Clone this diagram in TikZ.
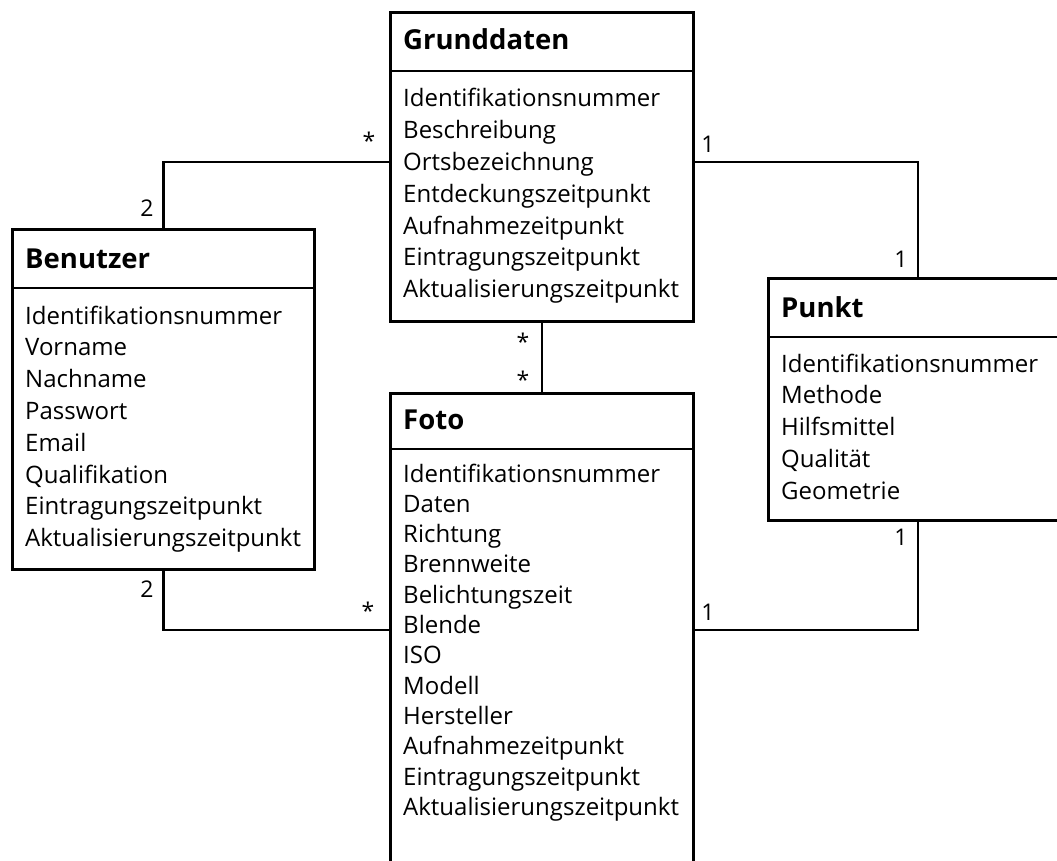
\documentclass[tikz,border=0pt]{standalone}
\usepackage{fontspec}
\setmainfont{Open Sans}
\begin{document}
\begin{tikzpicture}[x=1pt,y=-1pt,
  classbox/.style={draw, line width=2.6pt, rectangle, anchor=north west, inner sep=0pt},
  sepline/.style={line width=2.6pt},
  conn/.style={line width=2.6pt},
  title/.style={anchor=base west, inner sep=0pt, font=\fontsize{27.5}{30}\selectfont\bfseries},
  attrs/.style={anchor=base west, align=left, text width=330pt, inner sep=0pt,
    font=\fontsize{24}{31.8}\selectfont},
  mult/.style={anchor=base, inner sep=0pt, font=\fontsize{23}{24}\selectfont}]
  \clip (0,0) rectangle (1057,861);

  % class boxes
  \node[classbox, minimum width=303pt, minimum height=309pt] (grund) at (389,11) {};
  \node[classbox, minimum width=302pt, minimum height=340pt] (benutzer) at (11,228) {};
  \node[classbox, minimum width=303pt, minimum height=520pt] (foto) at (389,392) {};
  \node[classbox, minimum width=320pt, minimum height=242pt] (punkt) at (767,277) {};

  % header separators
  \draw[sepline] ([yshift=-60pt]grund.north west) -- ([yshift=-60pt]grund.north east);
  \draw[sepline] ([yshift=-60pt]benutzer.north west) -- ([yshift=-60pt]benutzer.north east);
  \draw[sepline] ([yshift=-57pt]foto.north west) -- ([yshift=-57pt]foto.north east);
  \draw[sepline] ([yshift=-60pt]punkt.north west) -- ([yshift=-60pt]punkt.north east);

  % titles
  \node[title] (grund-t) at (403,50) {Grunddaten};
  \node[title] (benutzer-t) at (25,268) {Benutzer};
  \node[title] (foto-t) at (403,429) {Foto};
  \node[title] (punkt-t) at (781,317) {Punkt};

  % attributes
  \node[attrs] (grund-a) at (403,107) {Identifikationsnummer\\Beschreibung\\Ortsbezeichnung\\Entdeckungszeitpunkt\\Aufnahmezeitpunkt\\Eintragungszeitpunkt\\Aktualisierungszeitpunkt};
  \node[attrs] (benutzer-a) at (25,324) {Identifikationsnummer\\Vorname\\Nachname\\Passwort\\Email\\Qualifikation\\Eintragungszeitpunkt\\Aktualisierungszeitpunkt};
  \node[attrs, font=\fontsize{24}{30.3}\selectfont] (foto-a) at (403,482) {Identifikationsnummer\\Daten\\Richtung\\Brennweite\\Belichtungszeit\\Blende\\ISO\\Modell\\Hersteller\\Aufnahmezeitpunkt\\Eintragungszeitpunkt\\Aktualisierungszeitpunkt};
  \node[attrs] (punkt-a) at (781,372) {Identifikationsnummer\\Methode\\Hilfsmittel\\Qualität\\Geometrie};

  % associations
  \draw[conn] (benutzer.north) |- ([yshift=-151pt]grund.north west);
  \draw[conn] ([xshift=151pt]punkt.north west) |- ([yshift=-151pt]grund.north east);
  \draw[conn] (grund.south) -- (foto.north);
  \draw[conn] (benutzer.south) |- ([yshift=-238pt]foto.north west);
  \draw[conn] ([xshift=151pt]punkt.south west) |- ([yshift=-238pt]foto.north east);

  % multiplicities
  \node[mult] (m1) at (369,150) {*};
  \node[mult] (m2) at (147,217) {2};
  \node[mult] (m3) at (708,153) {1};
  \node[mult] (m4) at (901,267) {1};
  \node[mult] (m5) at (523,350) {*};
  \node[mult] (m6) at (523,388) {*};
  \node[mult] (m7) at (147,597) {2};
  \node[mult] (m8) at (368,619) {*};
  \node[mult] (m9) at (901,545) {1};
  \node[mult] (m10) at (708,620) {1};
\end{tikzpicture}
\end{document}
